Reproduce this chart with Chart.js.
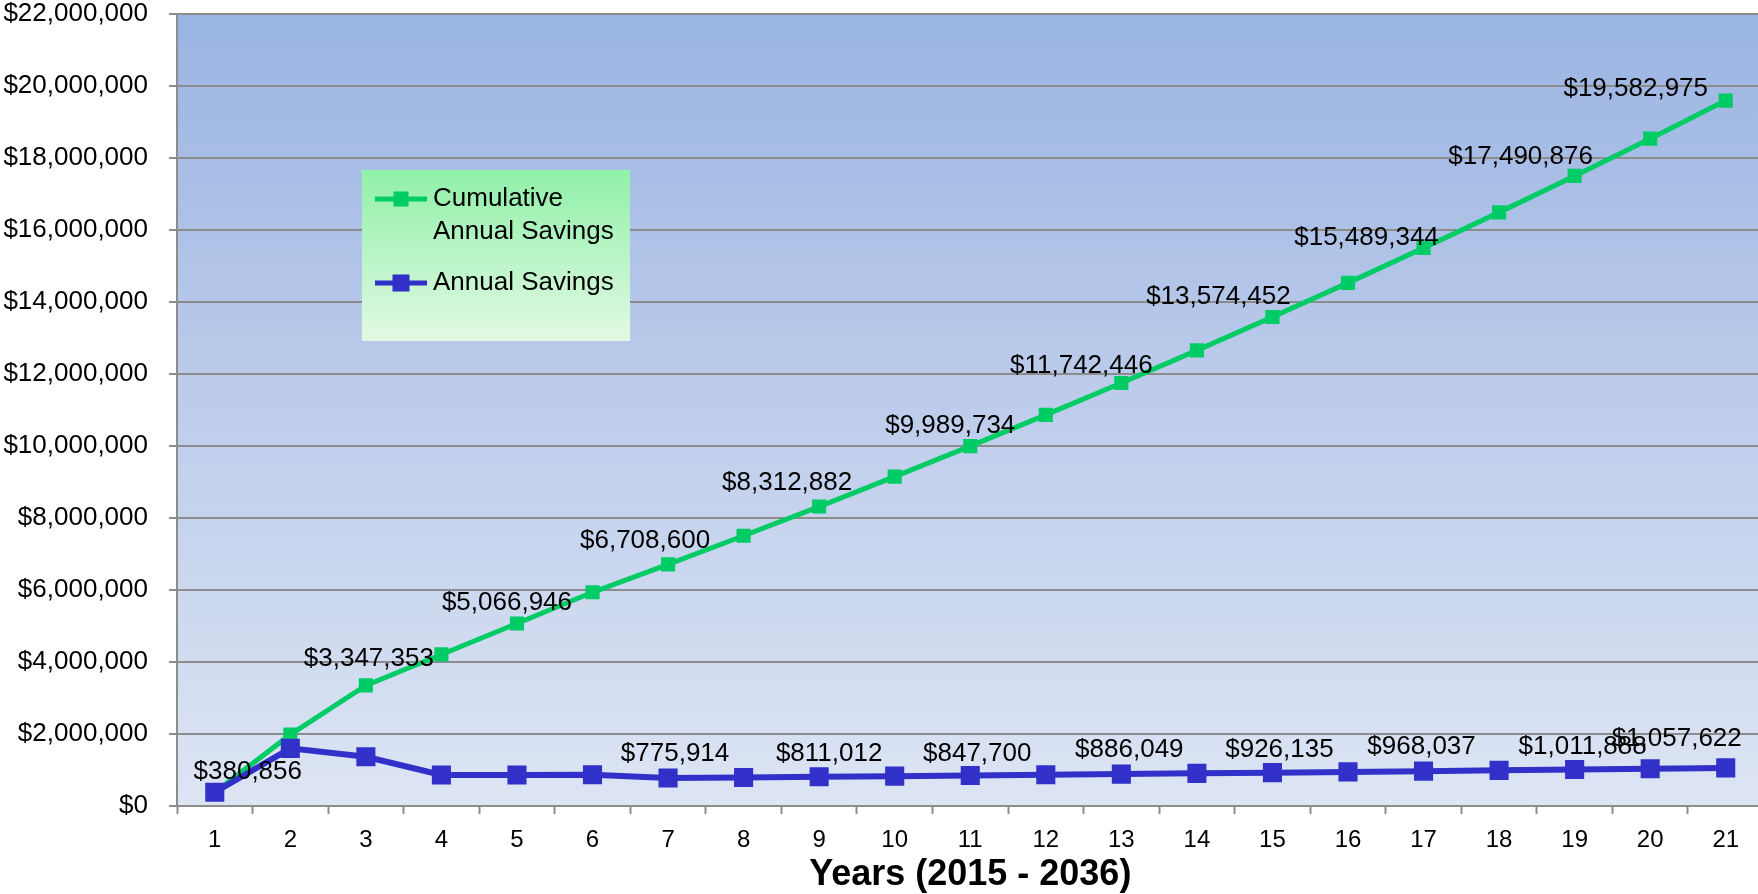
<!DOCTYPE html>
<html>
<head>
<meta charset="utf-8">
<script src="https://cdn.jsdelivr.net/npm/chart.js@4.4.1/dist/chart.umd.min.js"></script>
<style>
  html, body { margin: 0; padding: 0; background: #fff; overflow: hidden; }
  #wrap { width: 1758px; height: 894px; overflow: hidden; }
</style>
</head>
<body>
<div id="wrap"><canvas id="savingsChart" width="1777" height="894"></canvas></div>
<script>
var years = ['1','2','3','4','5','6','7','8','9','10','11','12','13','14','15','16','17','18','19','20','21'];
var cumulativeSavings = [380856, 1980856, 3347353, 4207353, 5066946, 5932686, 6708600, 7501870, 8312882, 9142034,
    9989734, 10856397, 11742446, 12648317, 13574452, 14521307, 15489344, 16478988, 17490876, 18525353, 19582975];
var annualSavings = [380856, 1600000, 1366497, 860000, 859593, 865740, 775914, 793270, 811012, 829152,
    847700, 866663, 886049, 905871, 926135, 946855, 968037, 989644, 1011888, 1034477, 1057622];
var yTicks = [0, 2000000, 4000000, 6000000, 8000000, 10000000, 12000000, 14000000, 16000000, 18000000, 20000000, 22000000];
var legendLines = [['Cumulative', 'Annual Savings'], ['Annual Savings']];

// which points carry a value label, and where the label sits relative to its point
var cumLabelIdx = [2, 4, 6, 8, 10, 12, 14, 16, 18, 20];
var cumLabelOff = [[3,-27], [-10,-21], [-23,-24], [-32,-24], [-20,-20], [-40,-17], [-54,-20], [-57,-10], [-54,-19], [-90,-12]];
var annLabelIdx = [0, 6, 8, 10, 12, 14, 16, 18, 20];
var annLabelOff = [[33,-20], [7,-24], [10,-23], [7,-22], [8,-24], [7,-23], [-2,-24], [8,-23], [-49,-29]];

var GREEN = '#00CC66';
var BLUE = '#3131C9';
var GRID = '#8C8C8C';
var FONT = '"Liberation Sans", Arial, sans-serif';

function money(v) {
    return '$' + Number(v).toLocaleString('en-US');
}

function noPadding(scale) {
    scale.paddingTop = 0;
    scale.paddingBottom = 0;
    scale.paddingLeft = 0;
    scale.paddingRight = 0;
}

var plotBackground = {
    id: 'plotBackground',
    beforeDraw: function(chart) {
        var a = chart.chartArea, ctx = chart.ctx;
        var g = ctx.createLinearGradient(0, a.top, 0, a.bottom);
        g.addColorStop(0, '#9AB4E2');
        g.addColorStop(0.5, '#BECDEB');
        g.addColorStop(1, '#DDE5F4');
        ctx.save();
        ctx.fillStyle = g;
        ctx.fillRect(a.left, a.top, a.right - a.left, a.bottom - a.top);
        ctx.restore();
    }
};

var valueLabels = {
    id: 'valueLabels',
    afterDatasetsDraw: function(chart) {
        var ctx = chart.ctx;
        var sets = [[0, cumLabelIdx, cumLabelOff], [1, annLabelIdx, annLabelOff]];
        ctx.save();
        ctx.font = '26px ' + FONT;
        ctx.fillStyle = '#000';
        ctx.textAlign = 'center';
        ctx.textBaseline = 'middle';
        sets.forEach(function(s) {
            var meta = chart.getDatasetMeta(s[0]);
            var vals = chart.data.datasets[s[0]].data;
            s[1].forEach(function(idx, k) {
                var pt = meta.data[idx];
                ctx.fillText(money(vals[idx]), pt.x + s[2][k][0], pt.y + s[2][k][1]);
            });
        });
        ctx.restore();
    }
};

var boxLegend = {
    id: 'boxLegend',
    afterDatasetsDraw: function(chart) {
        var ctx = chart.ctx;
        var bx = 362, by = 170, bw = 268, bh = 171;
        var g = ctx.createLinearGradient(0, by, 0, by + bh);
        g.addColorStop(0, '#90F0A8');
        g.addColorStop(1, '#E2F9E4');
        ctx.save();
        ctx.fillStyle = g;
        ctx.fillRect(bx, by, bw, bh);
        var rows = [199, 283];
        var sizes = [15, 17];
        ctx.font = '26px ' + FONT;
        ctx.textAlign = 'left';
        ctx.textBaseline = 'middle';
        chart.data.datasets.forEach(function(ds, i) {
            var y = rows[i];
            ctx.strokeStyle = ds.borderColor;
            ctx.lineWidth = 5;
            ctx.beginPath();
            ctx.moveTo(375, y);
            ctx.lineTo(427, y);
            ctx.stroke();
            ctx.fillStyle = ds.borderColor;
            ctx.fillRect(401 - sizes[i] / 2, y - sizes[i] / 2, sizes[i], sizes[i]);
            ctx.fillStyle = '#000';
            legendLines[i].forEach(function(t, j) {
                ctx.fillText(t, 433, y + j * 33);
            });
        });
        ctx.restore();
    }
};

new Chart(document.getElementById('savingsChart').getContext('2d'), {
    type: 'line',
    data: {
        labels: years,
        datasets: [
            { label: 'Cumulative Annual Savings', data: cumulativeSavings, borderColor: GREEN, backgroundColor: GREEN,
              borderWidth: 5, pointStyle: 'rect', pointRadius: 10, pointBorderWidth: 0, tension: 0, order: 1 },
            { label: 'Annual Savings', data: annualSavings, borderColor: BLUE, backgroundColor: BLUE,
              borderWidth: 6, pointStyle: 'rect', pointRadius: 13.5, pointBorderWidth: 0, tension: 0, order: 0 }
        ]
    },
    options: {
        responsive: false,
        animation: false,
        layout: { padding: { top: 13, left: 0, right: 0, bottom: 0 } },
        plugins: { legend: { display: false }, tooltip: { enabled: false } },
        scales: {
            x: {
                offset: true,
                grid: { offset: true, drawOnChartArea: false, drawTicks: true, tickLength: 8, tickColor: GRID, tickWidth: 2 },
                border: { color: GRID, width: 2 },
                ticks: { color: '#000', font: { family: FONT, size: 24 }, padding: 12, maxRotation: 0, autoSkip: false },
                title: { display: true, text: 'Years (2015 - 2036)', color: '#000',
                         font: { family: FONT, size: 36, weight: 'bold' }, padding: { top: 0, bottom: -3 } },
                afterFit: function(scale) { scale.height = 88; noPadding(scale); }
            },
            y: {
                min: 0,
                max: 22000000,
                afterBuildTicks: function(scale) {
                    scale.ticks = yTicks.map(function(v) { return { value: v }; });
                },
                grid: { color: GRID, lineWidth: 2, tickLength: 8, tickColor: GRID, tickWidth: 2 },
                border: { color: GRID, width: 2 },
                ticks: { color: '#000', font: { family: FONT, size: 26 }, padding: 21,
                         callback: function(v) { return money(v); } },
                afterFit: function(scale) { scale.width = 177; noPadding(scale); }
            }
        }
    },
    plugins: [plotBackground, valueLabels, boxLegend]
});
</script>
</body>
</html>
